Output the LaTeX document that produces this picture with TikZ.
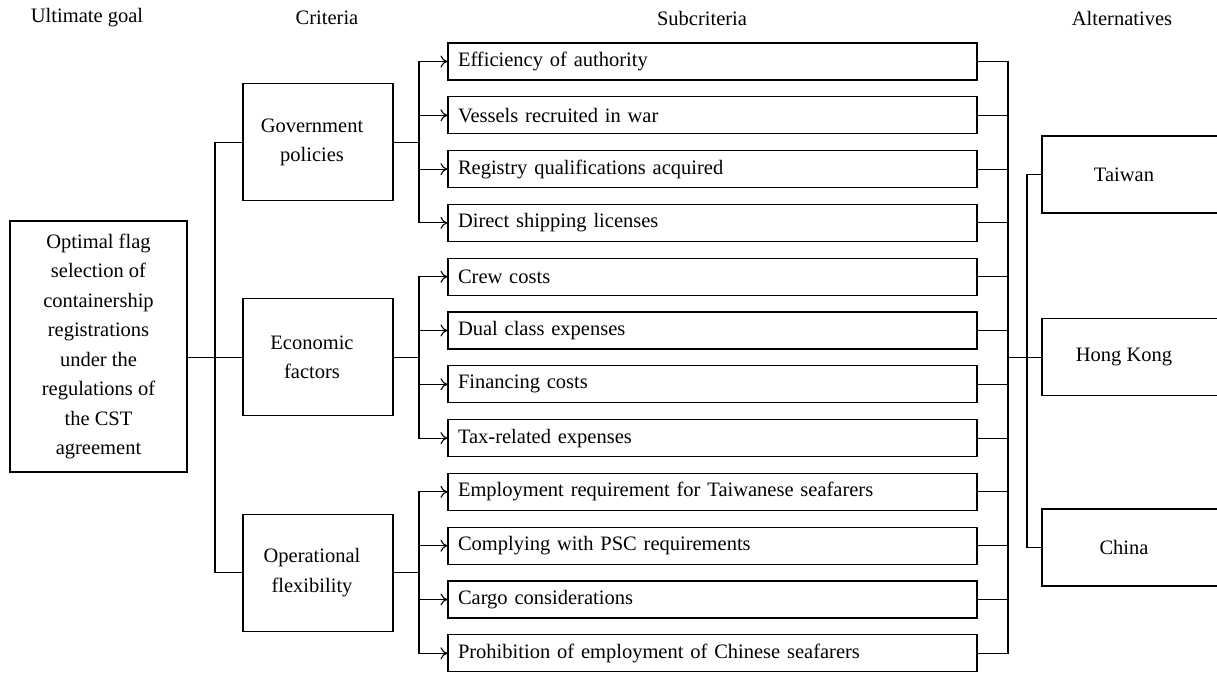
\documentclass[tikz,border=0pt]{standalone}
\usepackage{fontspec}
\setmainfont{Liberation Serif}
\usetikzlibrary{arrows.meta}

\tikzset{
        every node/.style={font=\fontsize{20.5}{29.5}\selectfont},
        goalbox/.style={draw, line width=1.1pt, minimum width=177pt, minimum height=251pt, align=center},
        critbox/.style={draw, line width=1.1pt, minimum width=150pt, minimum height=117pt, align=center},
        subbox/.style={draw, line width=1.1pt, minimum width=529pt, minimum height=37pt, text width=509pt, align=left},
        altbox/.style={draw, line width=1.1pt, minimum width=178pt, minimum height=77pt},
        link/.style={line width=1.1pt},
        arrowlink/.style={line width=1.1pt, -{To[length=7pt,width=12pt]}}
}

\begin{document}
\begin{tikzpicture}[x=1pt,y=-1pt]
        \useasboundingbox (0,0) rectangle (1217,673);
        % column headings
        \node (hgoal) at (87,18) {Ultimate goal};
        \node (hcrit) at (327,18) {Criteria};
        \node (hsub) at (702,18) {Subcriteria};
        \node (halt) at (1122,18) {Alternatives};
        % goal and criteria
        \node (goal) [goalbox] at (98.5,346.5) {Optimal flag\\selection of\\containership\\registrations\\under the\\regulations of\\the CST\\agreement};
        \node (gov) [critbox] at (318,142.2) {\hspace*{-12pt}Government\\\hspace*{-12pt}policies};
        \node (eco) [critbox] at (318,357.4) {\hspace*{-12pt}Economic\\\hspace*{-12pt}factors};
        \node (ops) [critbox] at (318,572.6) {\hspace*{-12pt}Operational\\\hspace*{-12pt}flexibility};
        % subcriteria
        \node (s1) [subbox] at (712.5,61.5) {Efficiency of authority};
        \node (s2) [subbox] at (712.5,115.3) {Vessels recruited in war};
        \node (s3) [subbox] at (712.5,169.1) {Registry qualifications acquired};
        \node (s4) [subbox] at (712.5,222.9) {Direct shipping licenses};
        \node (s5) [subbox] at (712.5,276.7) {Crew costs};
        \node (s6) [subbox] at (712.5,330.5) {Dual class expenses};
        \node (s7) [subbox] at (712.5,384.3) {Financing costs};
        \node (s8) [subbox] at (712.5,438.1) {Tax-related expenses};
        \node (s9) [subbox] at (712.5,491.9) {Employment requirement for Taiwanese seafarers};
        \node (s10) [subbox] at (712.5,545.7) {Complying with PSC requirements};
        \node (s11) [subbox] at (712.5,599.5) {Cargo considerations};
        \node (s12) [subbox] at (712.5,653.3) {Prohibition of employment of Chinese seafarers};
        % alternatives
        \node (taiwan) [altbox] at (1131,174.5) {\hspace*{-14pt}Taiwan};
        \node (hk) [altbox] at (1131,357.4) {\hspace*{-14pt}Hong Kong};
        \node (china) [altbox] at (1131,547.5) {\hspace*{-14pt}China};
        % junctions
        \coordinate (jg) at (215,357.4);
        \coordinate (j1) at (419,142.2);
        \coordinate (j2) at (419,357.4);
        \coordinate (j3) at (419,572.6);
        \coordinate (rb) at (1008,357.4);
        \coordinate (ra) at (1027,357.4);

        \draw [link] (goal.east |- jg) -- (jg);
        \draw [link] (jg) |- (gov.west);
        \draw [link] (jg) -- (eco.west);
        \draw [link] (jg) |- (ops.west);

        \draw [link] (gov.east) -- (j1);
        \draw [link] (eco.east) -- (j2);
        \draw [link] (ops.east) -- (j3);
        \draw [arrowlink] (j1) |- (s1.west);
        \draw [arrowlink] (j1) |- (s2.west);
        \draw [arrowlink] (j1) |- (s3.west);
        \draw [arrowlink] (j1) |- (s4.west);
        \draw [arrowlink] (j2) |- (s5.west);
        \draw [arrowlink] (j2) |- (s6.west);
        \draw [arrowlink] (j2) |- (s7.west);
        \draw [arrowlink] (j2) |- (s8.west);
        \draw [arrowlink] (j3) |- (s9.west);
        \draw [arrowlink] (j3) |- (s10.west);
        \draw [arrowlink] (j3) |- (s11.west);
        \draw [arrowlink] (j3) |- (s12.west);

        \draw [link] (s1.east) -| (rb);
        \draw [link] (s2.east) -| (rb);
        \draw [link] (s3.east) -| (rb);
        \draw [link] (s4.east) -| (rb);
        \draw [link] (s5.east) -| (rb);
        \draw [link] (s6.east) -| (rb);
        \draw [link] (s7.east) -| (rb);
        \draw [link] (s8.east) -| (rb);
        \draw [link] (s9.east) -| (rb);
        \draw [link] (s10.east) -| (rb);
        \draw [link] (s11.east) -| (rb);
        \draw [link] (s12.east) -| (rb);

        \draw [link] (rb) -- (hk.west);
        \draw [link] (ra) |- (taiwan.west);
        \draw [link] (ra) |- (china.west);
\end{tikzpicture}
\end{document}
